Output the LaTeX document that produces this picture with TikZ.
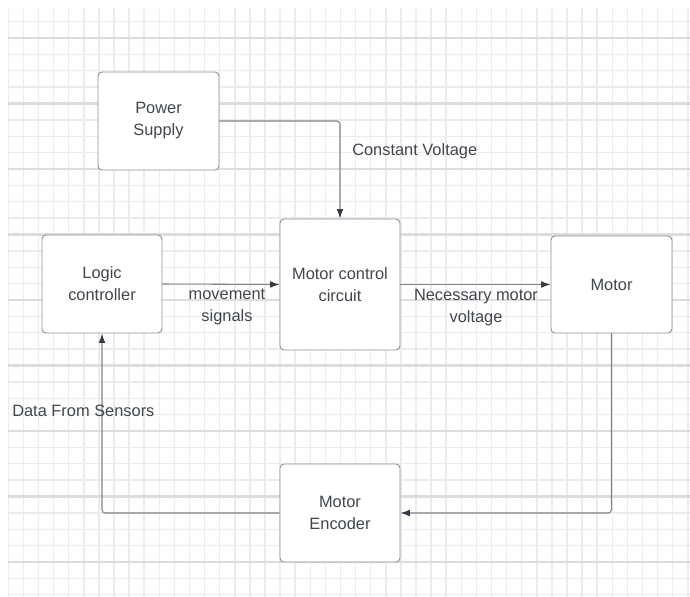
\documentclass[tikz,border=0pt]{standalone}
\usepackage{fontspec}
\setmainfont{Liberation Sans}
\usetikzlibrary{arrows.meta}
\definecolor{gridminor}{HTML}{ECECEC}
\definecolor{gridmajor}{HTML}{DDDDDD}
\definecolor{boxline}{HTML}{8C8F94}
\definecolor{txt}{HTML}{41464E}
\definecolor{wire}{HTML}{80858C}
\definecolor{tip}{HTML}{363B44}
\tikzset{
	box/.style={draw=boxline, line width=0.7pt, rounded corners=3pt, fill=white, text=txt, align=center, font=\fontsize{12.3}{16.5}\selectfont},
	arr/.style={draw=wire, line width=0.8pt, rounded corners=2.5pt, -{Latex[length=7pt,width=5pt,color=tip]}},
	lbl/.style={text=txt, align=center, inner sep=0pt, font=\fontsize{12.3}{16.5}\selectfont}
}
\begin{document}
\begin{tikzpicture}[x=0.75pt,y=-0.75pt]
	\useasboundingbox (0,0) rectangle (690,597);
	\fill[white] (0,0) rectangle (690,597);
	% grid
	\foreach \k in {0,...,45}{
		\draw[gridminor, line width=1.1pt] (8.3+15.1*\k,8) -- (8.3+15.1*\k,597);
	}
	\foreach \k in {1,...,36}{
		\pgfmathtruncatemacro{\m}{mod(\k,4)}
		\ifnum\m=2
			\draw[gridmajor, line width=1.8pt] (8,5.25+16.375*\k) -- (690,5.25+16.375*\k);
		\else
			\draw[gridminor, line width=1.1pt] (8,5.25+16.375*\k) -- (690,5.25+16.375*\k);
		\fi
	}
	
	\node[box, minimum width=90.75pt, minimum height=73.5pt] (ps) at (158.5,121) {Power\\Supply};
	\node[box, minimum width=90pt, minimum height=98.25pt] (mcc) at (340,284.5) {Motor control\\circuit};
	\node[box, minimum width=90pt, minimum height=73.5pt] (lc) at (102,284) {Logic\\controller};
	\node[box, minimum width=90.75pt, minimum height=72.75pt] (motor) at (611.5,284.5) {Motor};
	\node[box, minimum width=90pt, minimum height=73.5pt] (enc) at (340,513) {Motor\\Encoder};
	
	\draw[arr] (ps.east) -| (mcc.north);
	\draw[arr] (lc.east) -- (mcc.west);
	\draw[arr] (mcc.east) -- (motor.west);
	\draw[arr] (motor.south) |- (enc.east);
	\draw[arr] (enc.west) -| (lc.south);
	
	\node[lbl, anchor=west] (cv) at (352,151) {Constant Voltage};
	\node[lbl] (ms) at (227,307) {movement\\signals};
	\node[lbl] (nmv) at (476,308) {Necessary motor\\voltage};
	\node[lbl, anchor=west] (dfs) at (12,411) {Data From Sensors};
\end{tikzpicture}
\end{document}
